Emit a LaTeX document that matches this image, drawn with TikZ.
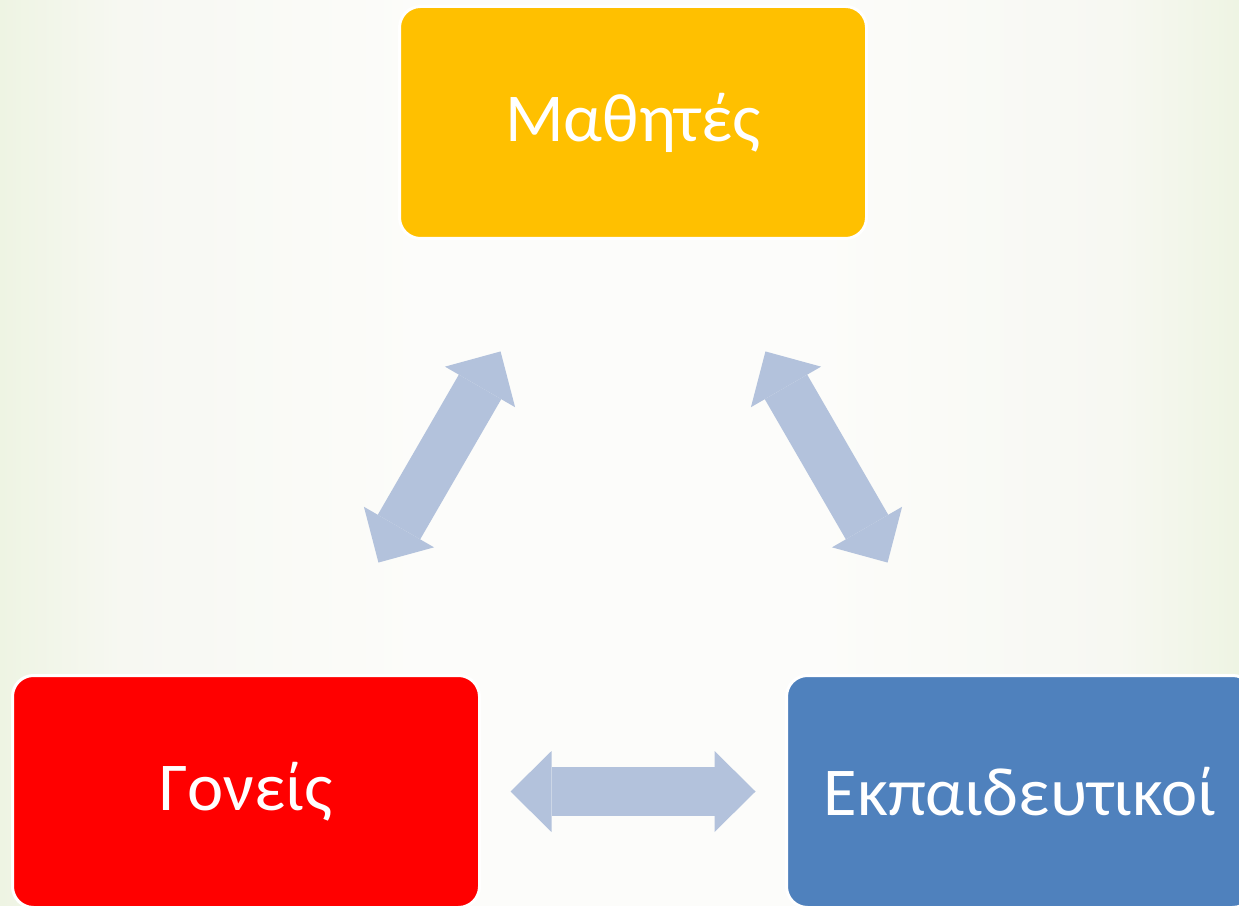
\documentclass[tikz,border=0pt]{standalone}
\usepackage{fontspec}
\setmainfont{Carlito}
\usetikzlibrary{positioning,arrows.meta}

\definecolor{bgedge}{RGB}{238,244,227}
\definecolor{bgmid}{RGB}{247,248,242}
\definecolor{bgcentre}{RGB}{252,252,250}
\definecolor{mathcol}{RGB}{255,192,0}
\definecolor{goncol}{RGB}{255,0,0}
\definecolor{ekpcol}{RGB}{79,129,189}
\definecolor{arrowcol}{RGB}{179,194,220}
\pgfdeclarehorizontalshading{bgfade}{100bp}{color(0bp)=(bgedge); color(25bp)=(bgedge); color(30bp)=(bgmid); color(42bp)=(bgcentre); color(58bp)=(bgcentre); color(70bp)=(bgmid); color(75bp)=(bgedge); color(100bp)=(bgedge)}

\begin{document}
\begin{tikzpicture}[
						box/.style={rectangle, rounded corners=0.42cm, draw=white, line width=0.06cm, minimum width=9.34cm, minimum height=4.64cm, text=white, font=\fontsize{39}{47}\selectfont},
						bigarrow/.style={arrowcol, line width=0.98cm, shorten <=5.29cm, shorten >=5.29cm, {Triangle[length=0.82cm 0 1, width=1.62cm 0 1, line width=0pt]}-{Triangle[length=0.82cm 0 1, width=1.62cm 0 1, line width=0pt]}}
					]
					\useasboundingbox (0,0) rectangle (24.78,18.10);
					\shade[shading=bgfade] (0,0) rectangle (24.78,18.10);
					\node[box, fill=goncol] (goneis) at (4.92,2.27) {Γονείς};
					\node[box, fill=ekpcol] (ekp) [right=6.08cm of goneis] {Εκπαιδευτικοί};
					\node[box, fill=mathcol] (mathites) at (12.66,15.65) {Μαθητές};
					\draw[bigarrow] (goneis.center) -- (mathites.center);
					\draw[bigarrow] (mathites.center) -- (ekp.center);
					\draw[bigarrow] (goneis.center) -- (ekp.center);
					\end{tikzpicture}
\end{document}
